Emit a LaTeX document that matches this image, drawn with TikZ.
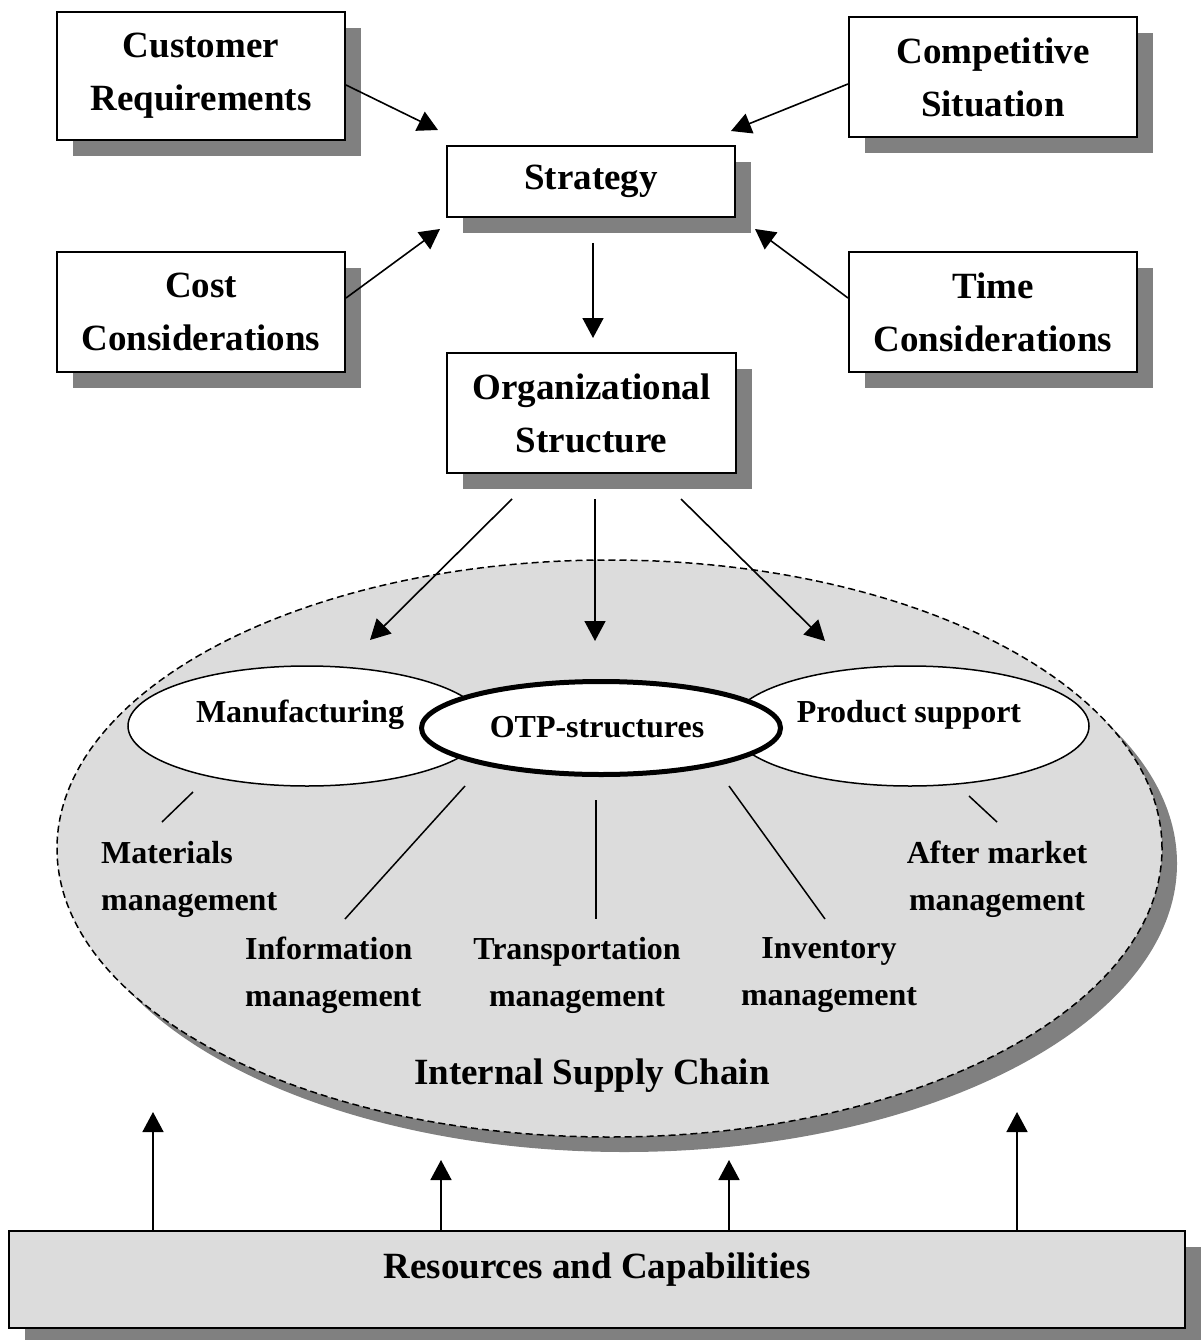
\documentclass[tikz,border=0pt]{standalone}
\usepackage{fontspec}
\setmainfont{Liberation Serif}
\usetikzlibrary{arrows.meta,shapes.geometric,shadows}
\definecolor{panel}{HTML}{DCDCDC}
\definecolor{shade}{HTML}{808080}
\tikzset{
  bigfont/.style={font=\fontsize{37}{53}\selectfont\bfseries},
  smallfont/.style={font=\fontsize{32}{47}\selectfont\bfseries},
  shadowed/.style={drop shadow={shadow xshift=16pt,shadow yshift=-16pt,fill=shade,opacity=1}},
  box/.style={draw,line width=2pt,fill=white,rectangle,inner sep=0pt,
              align=center,bigfont,shadowed},
  arr/.style={line width=1.6pt,-{Triangle[length=20pt,width=21pt]}},
  tick/.style={line width=1.5pt},
  lbl/.style={smallfont,inner sep=0pt,align=center},
  biglbl/.style={bigfont,inner sep=0pt,align=center},
  oval/.style={ellipse,draw,fill=white,line width=1.5pt,inner sep=0pt},
}
\begin{document}
\begin{tikzpicture}[x=1pt,y=-1pt]
\useasboundingbox (0,0) rectangle (1200,1340);

% internal supply chain area
\node[ellipse,draw,dash pattern=on 7pt off 4pt,line width=1.5pt,fill=panel,
      minimum width=1105pt,minimum height=577pt,inner sep=0pt,
      drop shadow={shadow xshift=15pt,shadow yshift=-15pt,fill=shade,opacity=1}]
      (isc) at (609.5,848.5) {};

% functional areas
\node[oval,minimum width=358pt,minimum height=120pt] (manu) at (307,726) {};
\node[oval,minimum width=358pt,minimum height=120pt] (prod) at (910,726) {};
\node[oval,line width=5pt,minimum width=359pt,minimum height=93pt] (otp) at (601,728) {};

\node[lbl,anchor=base] (manuT) at (300,722) {Manufacturing};
\node[lbl,anchor=base] (prodT) at (909,722) {Product support};
\node[lbl,anchor=base] (otpT) at (597,737) {OTP-structures};

% management labels and their ticks
\node[lbl,align=left,anchor=west] (mat) at (101,879) {Materials\\management};
\node[lbl,align=left,anchor=west] (inf) at (245,975) {Information\\management};
\node[lbl] (tra) at (577,975) {Transportation\\management};
\node[lbl] (inv) at (829,975) {Inventory\\management};
\node[lbl] (aft) at (997,879) {After market\\management};

\coordinate (m1) at (193,792); \coordinate (m2) at (162,822);
\coordinate (i1) at (465,786); \coordinate (i2) at (345,919);
\coordinate (t1) at (596,800); \coordinate (t2) at (596,919);
\coordinate (v1) at (729,786); \coordinate (v2) at (825,919);
\coordinate (a1) at (969,796); \coordinate (a2) at (997,822);
\draw[tick] (m1) -- (m2);
\draw[tick] (i1) -- (i2);
\draw[tick] (t1) -- (t2);
\draw[tick] (v1) -- (v2);
\draw[tick] (a1) -- (a2);

\node[biglbl,anchor=base] (iscT) at (592,1084) {Internal Supply Chain};

% strategy level boxes
\node[box,minimum width=288pt,minimum height=128pt] (cust) at (201,76) {Customer\\Requirements};
\node[box,minimum width=288pt,minimum height=120pt] (comp) at (993,77) {Competitive\\Situation};
\node[box,minimum width=288pt,minimum height=71pt] (strat) at (591,181.5) {Strategy};
\node[box,minimum width=288pt,minimum height=120pt] (cost) at (201,312) {Cost\\Considerations};
\node[box,minimum width=288pt,minimum height=120pt] (time) at (993,312) {Time\\Considerations};
\node[box,minimum width=289pt,minimum height=120pt] (org) at (591.5,413) {Organizational\\Structure};

% resources box
\node[box,fill=panel,minimum width=1176pt,minimum height=97pt] (res) at (597,1279.5) {};
\node[biglbl,anchor=base] (resT) at (597,1278) {Resources and Capabilities};

% arrows into strategy
\coordinate (cuTip) at (438,130);
\coordinate (coTip) at (731,131);
\coordinate (csTip) at (440,229);
\coordinate (tiTip) at (755,229);
\draw[arr] ([yshift=-9pt]cust.east) -- (cuTip);
\draw[arr] ([yshift=-7pt]comp.west) -- (coTip);
\draw[arr] ([yshift=14pt]cost.east) -- (csTip);
\draw[arr] ([yshift=14pt]time.west) -- (tiTip);

% strategy to organisation
\coordinate (sOut) at (593,243);
\coordinate (oIn) at (593,338);
\draw[arr] (sOut) -- (oIn);

% organisation into the supply chain
\coordinate (o1) at (512,499); \coordinate (e1) at (370,640);
\coordinate (o2) at (595,499); \coordinate (e2) at (595,641);
\coordinate (o3) at (681,499); \coordinate (e3) at (825,641);
\draw[arr] (o1) -- (e1);
\draw[arr] (o2) -- (e2);
\draw[arr] (o3) -- (e3);

% resources feeding the supply chain
\coordinate (r1) at (153,1112);
\coordinate (r2) at (441,1160);
\coordinate (r3) at (729,1160);
\coordinate (r4) at (1017,1112);
\draw[arr] (res.north -| r1) -- (r1);
\draw[arr] (res.north -| r2) -- (r2);
\draw[arr] (res.north -| r3) -- (r3);
\draw[arr] (res.north -| r4) -- (r4);
\end{tikzpicture}
\end{document}
